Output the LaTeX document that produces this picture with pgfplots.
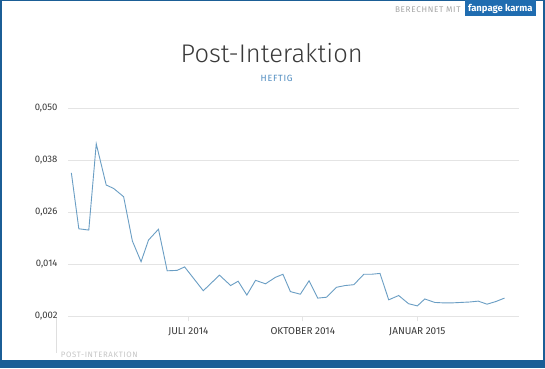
\documentclass[border=0pt]{standalone}
\usepackage{pgfplots}
\pgfplotsset{compat=1.18}
\usepackage{fontspec}
\setmainfont{Fira Sans}
\IfFontExistsTF{Fira Sans Light}{\newfontfamily\titlefont{Fira Sans Light}}{\newfontfamily\titlefont{Fira Sans}}
\newfontfamily\spacedfont[LetterSpace=8]{Fira Sans}
\definecolor{frameblue}{HTML}{1B5E96}
\definecolor{boxblue}{HTML}{1F6CB0}
\definecolor{lineblue}{HTML}{6A9EC4}
\definecolor{subblue}{HTML}{4F8CC0}
\definecolor{gridgray}{HTML}{E4E4E4}
\definecolor{labelgray}{HTML}{3A3A3A}
\begin{document}
\begin{tikzpicture}[x=1pt,y=1pt]
\useasboundingbox (0,0) rectangle (545,368);
\fill[frameblue] (0,0) rectangle (545,368);
\fill[white] (2,8.5) rectangle (543,367);
% header
\fill[boxblue] (465,352.3) rectangle (535.7,368);
\node[anchor=base,text=white,inner sep=0pt,font=\bfseries\fontsize{9.5}{10}\selectfont] at (500.3,356) {fanpage karma};
\node[anchor=base east,text=gray!70,inner sep=0pt,font=\spacedfont\fontsize{8.2}{9}\selectfont] at (460.7,355.5) {BERECHNET MIT};
\node[anchor=base,text=labelgray,inner sep=0pt,font=\titlefont\fontsize{25.5}{27}\selectfont] at (271.7,306) {Post-Interaktion};
\node[anchor=base,text=subblue,inner sep=0pt,font=\spacedfont\fontsize{9}{10}\selectfont] at (276.7,287) {HEFTIG};
% footer
\draw[gray!25,line width=0.8pt] (56.7,50) -- (56.7,15);
\node[anchor=base west,text=gray!45,inner sep=0pt,font=\spacedfont\fontsize{7.8}{8}\selectfont] at (60.7,10.7) {POST-INTERAKTION};
\begin{axis}[
  at={(68pt,51.7pt)}, anchor=south west,
  scale only axis, width=451pt, height=208pt,
  xmin=-96.7, xmax=265.7, ymin=0.002, ymax=0.050,
  axis line style={draw=none},
  ytick={0.002,0.014,0.026,0.038,0.050},
  scaled y ticks=false,
  ymajorgrids, grid style={gridgray, line width=0.8pt},
  xtick={0,92,184},
  xticklabels={JULI 2014,OKTOBER 2014,JANUAR 2015},
  xtick pos=bottom, ytick pos=left,
  tick align=outside,
  major tick length=5pt,
  xtick style={draw=gridgray, line width=0.8pt},
  ytick style={draw=none},
  /pgf/number format/assume math mode=true,
  yticklabel style={/pgf/number format/.cd, fixed, fixed zerofill, precision=3, use comma, /tikz/.cd, font=\fontsize{9.5}{10}\selectfont, text=labelgray, xshift=-2pt},
  xticklabel style={font=\fontsize{10}{11}\selectfont, text=labelgray, yshift=-3pt},
  clip=false,
]
\addplot[lineblue, line width=0.9pt, mark=none] coordinates {
(-94,0.0351) (-88,0.0222) (-80,0.0219) (-74,0.0418) (-66,0.0323) (-60,0.0315)
(-52,0.0296) (-45,0.0194) (-38,0.0146) (-32,0.0196) (-24,0.0221) (-17,0.0125)
(-9,0.0126) (-3,0.0134) (12,0.0079) (25,0.0115) (34,0.0091) (40,0.0101)
(47,0.0069) (54,0.0103) (62,0.0095) (70,0.0110) (76,0.0117) (82,0.0077)
(90,0.0071) (97,0.0102) (104,0.0062) (111,0.0064) (119,0.0087) (126,0.0091)
(133,0.0093) (141,0.0117) (147,0.0117) (154,0.0119) (161,0.0058) (169,0.0068)
(177,0.0049) (184,0.0044) (190,0.0060) (198,0.0052) (205,0.0051) (212,0.0051)
(219,0.0052) (226,0.0053) (233,0.0055) (240,0.0048) (247,0.0054) (254,0.0062)
};
\end{axis}
\end{tikzpicture}
\end{document}
